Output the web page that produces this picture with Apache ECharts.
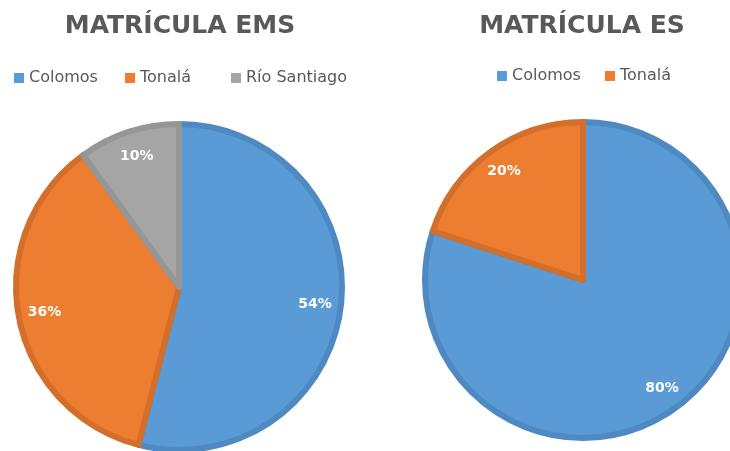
<!DOCTYPE html>
<html>
<head>
<meta charset="utf-8">
<script src="https://cdn.jsdelivr.net/npm/echarts@6/dist/echarts.min.js"></script>
<style>
  html, body { margin: 0; padding: 0; background: #fff; }
  #main { width: 730px; height: 451px; }
</style>
</head>
<body>
<div id="main"></div>
<script>
// EMS pie (left)
const emsNames = ['Colomos', 'Tonalá', 'Río Santiago']
const emsValues = [54, 36, 10]
// ES pie (right)
const esNames = ['Colomos', 'Tonalá']
const esValues = [80, 20]

const fills = ['#5B9BD5', '#ED7D31', '#A5A5A5']
const borders = ['#4F89C1', '#D36F2B', '#969696']
const FONT = 'DejaVu Sans'

function toData (names, values) {
  return names.map((n, i) => ({
    name: n,
    value: values[i],
    itemStyle: { color: fills[i], borderColor: borders[i], borderWidth: 6 }
  }))
}

// visible slices, no labels
function pieSeries (names, values, center, r) {
  return {
    type: 'pie',
    center: center,
    radius: [0, r - 3],
    startAngle: 90,
    clockwise: true,
    label: { show: false },
    labelLine: { show: false },
    emphasis: { disabled: true },
    data: toData(names, values)
  }
}

// transparent ring that only carries the percentage labels
function labelSeries (names, values, center, r0, r) {
  return {
    type: 'pie',
    center: center,
    radius: [r0, r],
    startAngle: 90,
    clockwise: true,
    silent: true,
    itemStyle: { color: 'transparent', borderWidth: 0 },
    label: {
      show: true,
      position: 'inside',
      formatter: '{d}%',
      color: '#fff',
      fontFamily: FONT,
      fontWeight: 'bold',
      fontSize: 14
    },
    labelLine: { show: false },
    emphasis: { disabled: true },
    data: names.map((n, i) => ({ name: n, value: values[i] }))
  }
}

const chart = echarts.init(document.getElementById('main'), null, { renderer: 'canvas' })

const titleStyle = { fontFamily: FONT, fontWeight: 'bold', fontSize: 25, color: '#595959' }

// one legend per entry so each can sit where Excel put it
function legendItem (name, left, top) {
  return {
    data: [name],
    left: left,
    top: top,
    padding: 0,
    icon: 'rect',
    itemWidth: 10,
    itemHeight: 10,
    itemStyle: { borderWidth: 0 },
    selectedMode: false,
    textStyle: { fontFamily: FONT, fontSize: 16, color: '#595959' }
  }
}
const emsLegendLeft = [14, 125, 231]
const esLegendLeft = [497, 605]

chart.setOption({
  animation: false,
  title: [
    { text: 'MATRÍCULA EMS', left: 175, top: 9, textAlign: 'center', textStyle: titleStyle },
    { text: 'MATRÍCULA ES', left: 577, top: 9, textAlign: 'center', textStyle: titleStyle }
  ],
  legend: emsNames.map((n, i) => legendItem(n, emsLegendLeft[i], 70))
    .concat(esNames.map((n, i) => legendItem(n, esLegendLeft[i], 68))),
  series: [
    pieSeries(emsNames, emsValues, [179, 287], 166),
    pieSeries(esNames, esValues, [583, 280], 161),
    labelSeries(emsNames, emsValues, [179, 287], 102, 166),
    labelSeries(esNames, esValues, [583, 280], 102, 161)
  ]
})
</script>
</body>
</html>
